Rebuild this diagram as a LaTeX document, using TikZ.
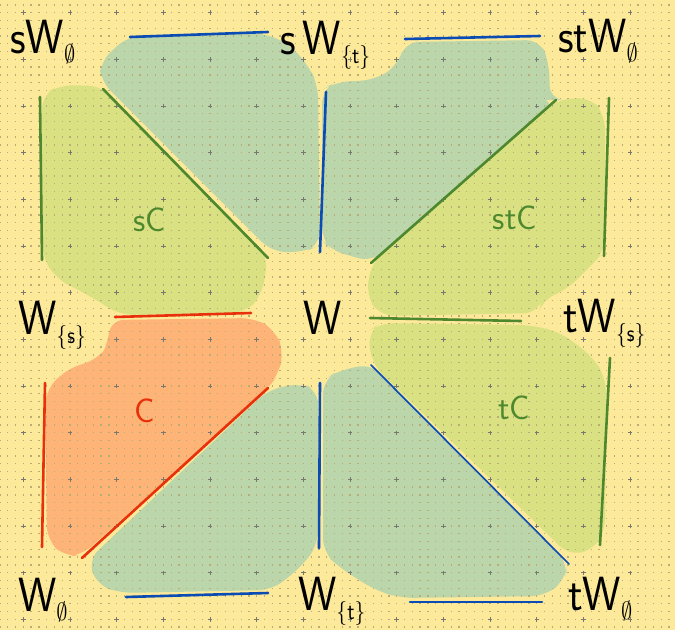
\documentclass[tikz,border=0pt]{standalone}
\usetikzlibrary{calc}
\definecolor{bgyel}{RGB}{253,233,154}
\definecolor{dotc}{RGB}{185,172,120}
\definecolor{crossc}{RGB}{120,120,110}
\definecolor{teal1}{RGB}{187,214,171}
\definecolor{ygreen}{RGB}{218,225,130}
\definecolor{orng}{RGB}{253,180,118}
\definecolor{lblue}{RGB}{10,75,180}
\definecolor{lgreen}{RGB}{78,136,46}
\definecolor{lred}{RGB}{232,48,12}
\newcommand\mylbl[2]{#1\raisebox{-9pt}{\fontsize{24}{26}\selectfont #2}}
\tikzset{
  blob/.style={rounded corners=14pt, draw=none},
  edgeln/.style={line width=2.6pt, line cap=round},
  biglbl/.style={font=\sffamily\fontsize{48}{50}\selectfont, inner sep=0pt, anchor=base west, xscale=0.9},
  inlbl/.style={font=\sffamily\fontsize{34}{36}\selectfont, inner sep=0pt}
}
\begin{document}
\begin{tikzpicture}[x=1pt,y=-1pt]
\useasboundingbox (0,0) rectangle (675,630);
\fill[bgyel] (0,0) rectangle (675,630);
% blobs
\fill[teal1,blob] (100,62) -- (128,36) -- (265,33) -- (290,45) -- (308,65) -- (318,85) -- (320,245) -- (305,252) -- (272,252) -- (100,80) -- cycle;
\fill[ygreen,blob] (42,95) -- (60,85) -- (102,86) -- (268,256) -- (262,295) -- (245,313) -- (120,315) -- (90,296) -- (55,278) -- (42,255) -- cycle;
\fill[teal1,blob] (322,90) -- (335,82) -- (375,80) -- (398,65) -- (405,42) -- (540,40) -- (549,62) -- (550,100) -- (556,100) -- (372,262) -- (330,250) -- (322,240) -- cycle;
\fill[ygreen,blob] (372,262) -- (556,100) -- (590,97) -- (605,115) -- (605,250) -- (592,265) -- (566,290) -- (542,300) -- (538,313) -- (380,316) -- (366,295) -- cycle;
\fill[orng,blob] (110,320) -- (255,318) -- (275,330) -- (284,352) -- (278,375) -- (268,388) -- (82,555) -- (65,557) -- (47,540) -- (45,392) -- (65,370) -- (100,358) -- (108,345) -- cycle;
\fill[teal1,blob] (268,390) -- (300,383) -- (318,390) -- (318,545) -- (300,568) -- (272,590) -- (120,593) -- (97,585) -- (88,560) -- cycle;
\fill[teal1,blob] (323,380) -- (340,370) -- (372,364) -- (568,563) -- (565,580) -- (545,596) -- (400,598) -- (375,590) -- (340,568) -- (323,552) -- cycle;
\fill[ygreen,blob] (372,364) -- (368,332) -- (380,323) -- (530,325) -- (560,332) -- (592,356) -- (606,378) -- (605,530) -- (596,548) -- (570,556) -- cycle;
% grid dots
\foreach \j in {0,...,81} {
  \draw[dotc, line width=1.3pt, dash pattern=on 1.3pt off 6.48pt] (-0.65,{4.89+\j*7.778}) -- (676,{4.89+\j*7.778});
}
\foreach \i in {0,...,14} {
  \foreach \j in {0,...,13} {
    \draw[crossc, line width=0.9pt] ({23.33+\i*46.67-2.2},{12.67+\j*46.67}) -- ++(4.4,0);
    \draw[crossc, line width=0.9pt] ({23.33+\i*46.67},{12.67+\j*46.67-2.2}) -- ++(0,4.4);
  }
}
% edges
\draw[lblue,edgeln] (130,37) -- (268,32);
\draw[lblue,edgeln] (405,39) -- (540,36);
\draw[lblue,edgeln] (326,92) -- (320,252);
\draw[lgreen,edgeln] (40,97) -- (42,260);
\draw[lgreen,edgeln] (103,89) -- (268,258);
\draw[lgreen,edgeln] (556,100) -- (371,263);
\draw[lgreen,edgeln] (609,98) -- (604,256);
\draw[lred,edgeln] (115,317) -- (251,313);
\draw[lgreen,edgeln] (370,318) -- (521,321);
\draw[lred,edgeln] (45,383) -- (42,547);
\draw[lred,edgeln] (268,388) -- (82,558);
\draw[lblue,edgeln] (320,383) -- (319,548);
\draw[lblue,line width=1.6pt,line cap=round] (371,365) -- (569,564);
\draw[lgreen,edgeln] (610,358) -- (600,545);
\draw[lblue,edgeln] (126,597) -- (268,593);
\draw[lblue,edgeln] (410,602) -- (542,602);
% labels
\node[biglbl] (sW0) at (10,53) {\mylbl{sW}{$\emptyset$}};
\node[biglbl] (sWt) at (280,54) {\mylbl{s\,W}{\{t\}}};
\node[biglbl] (stW0) at (558,52) {\mylbl{stW}{$\emptyset$}};
\node[biglbl] (Ws) at (18,334) {\mylbl{W}{\{s\}}};
\node[biglbl] (W) at (303,334) {W};
\node[biglbl] (tWs) at (563,332) {\mylbl{tW}{\{s\}}};
\node[biglbl] (W0) at (18,611) {\mylbl{W}{$\emptyset$}};
\node[biglbl] (Wt) at (298,610) {\mylbl{W}{\{t\}}};
\node[biglbl] (tW0) at (568,610) {\mylbl{tW}{$\emptyset$}};
\node[inlbl, text=lgreen] (sC) at (150,220) {sC};
\node[inlbl, text=lgreen] (stC) at (515,218) {stC};
\node[inlbl, text=lred] (C) at (145,411) {C};
\node[inlbl, text=lgreen] (tC) at (514,408) {tC};
\end{tikzpicture}
\end{document}
